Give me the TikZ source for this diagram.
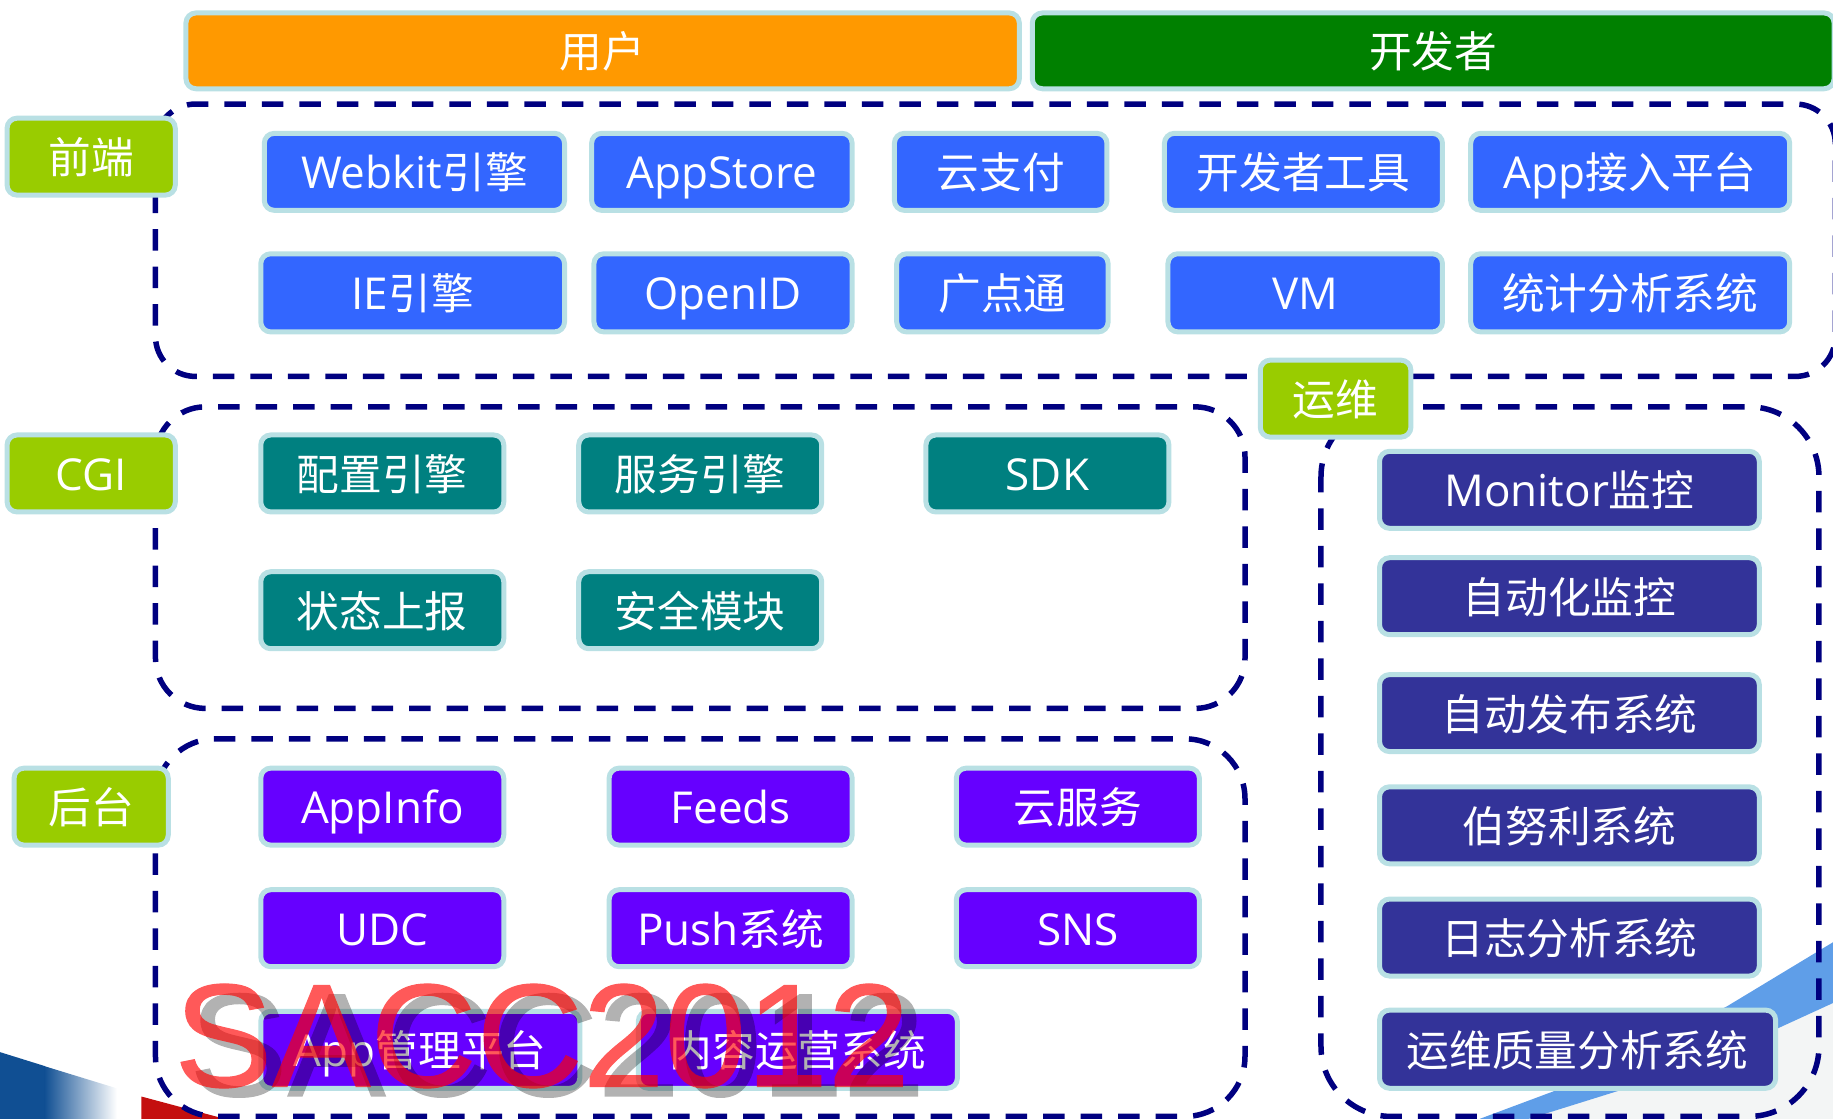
\documentclass[tikz,border=0pt]{standalone}
\usepackage{fontspec}
\setmainfont{Noto Sans CJK SC}
\newfontfamily\latinf{Open Sans}
\newfontfamily\wmf[FakeBold=0.8]{Liberation Sans}
\newcommand{\La}[1]{{\latinf\fontsize{44}{44}\selectfont #1}}
\definecolor{bord}{HTML}{B9E0E4}
\definecolor{cOrange}{HTML}{FF9900}
\definecolor{cGreen}{HTML}{008000}
\definecolor{cLime}{HTML}{99CC00}
\definecolor{cBlue}{HTML}{3366FF}
\definecolor{cTeal}{HTML}{008080}
\definecolor{cPurple}{HTML}{6600FF}
\definecolor{cNavy}{HTML}{333399}
\definecolor{cDash}{HTML}{000080}
\definecolor{cSw}{HTML}{5F9EE8}
\definecolor{cBl}{HTML}{104F93}
\definecolor{cRd}{HTML}{C40F0F}
\definecolor{cGy}{HTML}{F3F5F5}
\tikzset{
  bx/.style={draw=bord,line width=5pt,rounded corners=10pt,text=white,inner sep=0pt,
    text height=38pt,text depth=4pt,align=center,font=\fontsize{42.7}{43}\selectfont},
  grp/.style={draw=cDash,line width=5.5pt},
  wm/.style={inner sep=0pt,anchor=base west,font=\wmf\fontsize{147}{147}\selectfont}
}
% name, fill, x0, y0, x1, y1, text (coordinates in the 1568-wide frame)
\newcommand{\bxn}[7]{%
  \pgfmathsetmacro{\bw}{(#5-#3)*1.169-2.5}%
  \pgfmathsetmacro{\bh}{(#6-#4)*1.169-2.5}%
  \node[bx,fill=#2,minimum width=\bw pt,minimum height=\bh pt] (#1) at ({(#3+#5)/2},{(#4+#6)/2}) {#7};}
\begin{document}
\begin{tikzpicture}[x=1.169pt,y=-1.169pt]
\useasboundingbox (0,0) rectangle (1568,957);
% background swooshes
\fill[cGy] (1568,858) -- (1308,957) -- (1568,957) -- cycle;
\fill[cSw] (1568,806) -- (1477,861) -- (1333,932) -- (1266,957) -- (1308,957) -- (1388,932) -- (1520,880) -- (1568,858) -- cycle;
\fill[cBl] (0,900) -- (38.5,912) -- (38.5,957) -- (0,957) -- cycle;
\shade[left color=cBl,right color=white] (38,912) -- (100,931) -- (100,957) -- (38,957) -- cycle;
\fill[cRd] (121,938) -- (192,957) -- (121,957) -- cycle;
% groups
\draw[grp,rounded corners=40pt,dash pattern=on 21.5pt off 16pt,dash phase=27.5pt] (133,89) rectangle (1570,322);
\draw[grp,rounded corners=50pt,dash pattern=on 21.5pt off 16pt,dash phase=3.8pt] (133,348) rectangle (1065,606);
\draw[grp,rounded corners=60pt,dash pattern=on 21.5pt off 16pt,dash phase=20.5pt] (133,632) rectangle (1065,955);
\draw[grp,rounded corners=70pt,dash pattern=on 21.5pt off 16pt,dash phase=6pt] (1130,348) rectangle (1556,955);
% top bars
\bxn{user}{cOrange}{158}{10}{873}{77}{用户}
\bxn{dev}{cGreen}{882}{10}{1570}{77}{开发者}
% labels
\bxn{qd}{cLime}{5}{100}{151}{168}{前端}
\bxn{cgi}{cLime}{5}{371}{151}{439}{\La{CGI}}
\bxn{ht}{cLime}{11}{656}{145}{724}{后台}
\bxn{yw}{cLime}{1077}{307}{1208}{375}{运维}
% front end
\bxn{a1}{cBlue}{225}{113}{484}{181}{\La{Webkit}引擎}
\bxn{a2}{cBlue}{505}{113}{730}{181}{\La{AppStore}}
\bxn{a3}{cBlue}{764}{113}{948}{181}{云支付}
\bxn{a4}{cBlue}{995}{113}{1235}{181}{开发者工具}
\bxn{a5}{cBlue}{1257}{113}{1532}{181}{\La{App}接入平台}
\bxn{b1}{cBlue}{222}{216}{484}{285}{\La{IE}引擎}
\bxn{b2}{cBlue}{507}{216}{730}{285}{\La{OpenID}}
\bxn{b3}{cBlue}{766}{216}{949}{285}{广点通}
\bxn{b4}{cBlue}{998}{216}{1235}{285}{\La{VM}}
\bxn{b5}{cBlue}{1257}{216}{1532}{285}{统计分析系统}
% CGI
\bxn{c1}{cTeal}{222}{371}{432}{439}{配置引擎}
\bxn{c2}{cTeal}{494}{371}{704}{439}{服务引擎}
\bxn{c3}{cTeal}{791}{371}{1001}{439}{\La{SDK}}
\bxn{d1}{cTeal}{222}{488}{432}{556}{状态上报}
\bxn{d2}{cTeal}{494}{488}{704}{556}{安全模块}
% backend
\bxn{e1}{cPurple}{222}{656}{432}{724}{\La{AppInfo}}
\bxn{e2}{cPurple}{520}{656}{730}{724}{\La{Feeds}}
\bxn{e3}{cPurple}{817}{656}{1027}{724}{云服务}
\bxn{f1}{cPurple}{222}{760}{432}{828}{\La{UDC}}
\bxn{f2}{cPurple}{520}{760}{730}{828}{\La{Push}系统}
\bxn{f3}{cPurple}{817}{760}{1027}{828}{\La{SNS}}
\bxn{g1}{cPurple}{222}{864}{497}{932}{\La{App}管理平台}
\bxn{g2}{cPurple}{545}{864}{820}{932}{内容运营系统}
% ops
\bxn{h1}{cNavy}{1179}{385}{1506}{453}{\La{Monitor}监控}
\bxn{h2}{cNavy}{1179}{476}{1506}{544}{自动化监控}
\bxn{h3}{cNavy}{1179}{576}{1506}{644}{自动发布系统}
\bxn{h4}{cNavy}{1179}{672}{1506}{740}{伯努利系统}
\bxn{h5}{cNavy}{1179}{768}{1506}{836}{日志分析系统}
\bxn{h6}{cNavy}{1179}{863}{1520}{932}{运维质量分析系统}
% watermark
\begin{scope}[transparency group,opacity=.3]
\node[wm,text=black] (wms) at (162,937.5) {SACC2012};
\end{scope}
\begin{scope}[transparency group,opacity=.65]
\node[wm,text=red] (wmr) at (149,929.5) {SACC2012};
\end{scope}
\end{tikzpicture}
\end{document}
